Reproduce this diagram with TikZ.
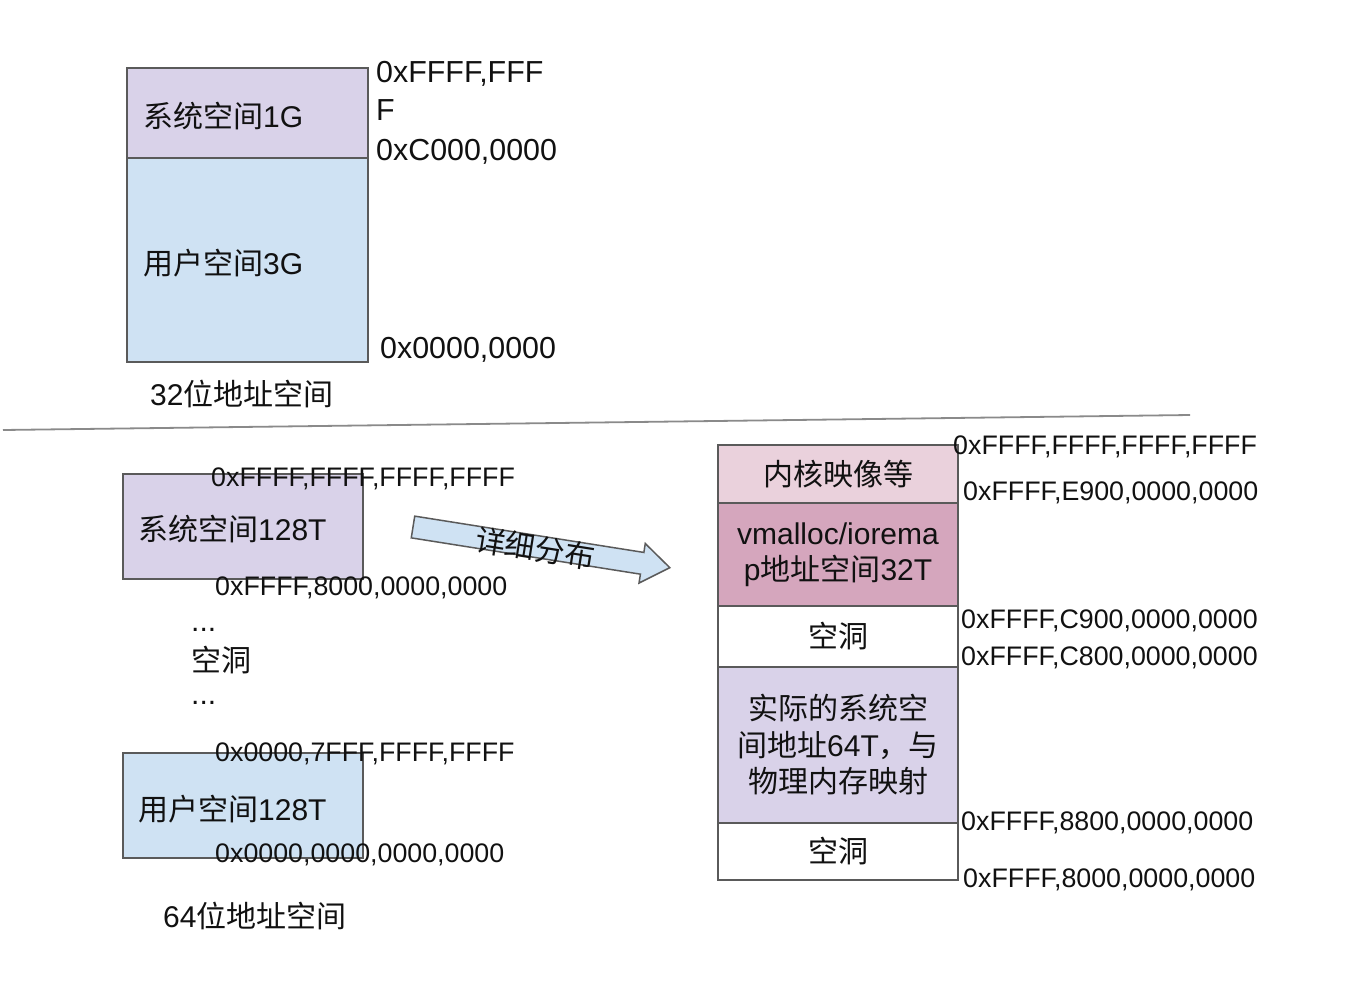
\documentclass[tikz,border=0pt]{standalone}
\usepackage{fontspec}
\setmainfont{Liberation Sans}
\newfontfamily\cjk{Noto Sans CJK SC}
\definecolor{lav}{HTML}{D9D2E9}
\definecolor{blu}{HTML}{CFE2F3}
\definecolor{pinklt}{HTML}{EAD1DC}
\definecolor{pinkdk}{HTML}{D5A6BD}
\definecolor{edge}{HTML}{5A5A5A}
\definecolor{ink}{HTML}{111111}
\definecolor{sep}{HTML}{8A8A8A}
\begin{document}
\begin{tikzpicture}[x=1pt,y=-1pt,
  box/.style={draw=edge, line width=1.8pt, anchor=north west, inner sep=0pt, outer sep=0pt},
  cell/.style={box, minimum width=240, align=center, text=ink, font=\fontsize{30}{36.5}\selectfont},
  lbl/.style={anchor=west, inner sep=0pt, text=ink, font=\fontsize{30}{36}\selectfont},
  hex/.style={anchor=west, inner sep=0pt, text=ink, font=\fontsize{26.8}{30}\selectfont},
  hexbig/.style={anchor=west, inner sep=0pt, text=ink, font=\fontsize{30.4}{36}\selectfont},
  bigarrow/.style={draw=edge, line width=1.5pt, fill=blu, line join=miter}
]
\useasboundingbox (0,0) rectangle (1348,990);

% ---------- 32-bit ----------
\node[box, fill=lav, minimum width=241, minimum height=90] (sys32) at (127,68) {};
\node[box, fill=blu, minimum width=241, minimum height=204] (usr32) at (127,158) {};
\node[lbl] (sys32t) at (143,116) {{\cjk 系统空间}1G};
\node[lbl] (usr32t) at (143,263) {{\cjk 用户空间}3G};
\node[hexbig] (h32a) at (376,74) {0xFFFF,FFF};
\node[hexbig] (h32b) at (376,110) {F};
\node[hexbig] (h32c) at (376,152) {0xC000,0000};
\node[hexbig] (h32d) at (380,350) {0x0000,0000};
\node[lbl] (cap32) at (150,394) {32{\cjk 位地址空间}};

% separator
\coordinate (sepL) at (3,430);
\coordinate (sepR) at (1190,415);
\draw[sep, line width=1.8pt] (sepL) -- (sepR);

% ---------- 64-bit left ----------
\node[box, fill=lav, minimum width=240, minimum height=105] (sys64) at (123,474) {};
\node[lbl] (sys64t) at (138,529) {{\cjk 系统空间}128T};
\node[hex] (h64a) at (211,479) {0xFFFF,FFFF,FFFF,FFFF};
\node[hex] (h64b) at (215,588) {0xFFFF,8000,0000,0000};
\node[lbl] (dots1) at (191,630) {...};
\node[lbl] (hole) at (191,660) {{\cjk 空洞}};
\node[lbl] (dots2) at (191,703) {...};

\node[box, fill=blu, minimum width=240, minimum height=105] (usr64) at (123,753) {};
\node[lbl] (usr64t) at (138,809) {{\cjk 用户空间}128T};
\node[hex] (h64c) at (215,754) {0x0000,7FFF,FFFF,FFFF};
\node[hex] (h64d) at (215,855) {0x0000,0000,0000,0000};
\node[lbl] (cap64) at (163,916) {64{\cjk 位地址空间}};

% ---------- block arrow ----------
\begin{scope}[shift={(413,527)}, rotate=-9]
  \draw[bigarrow] (0,-11) -- (232,-11) -- (232,-20) -- (260,0) -- (232,20) -- (232,11) -- (0,11) -- cycle;
  \node[lbl, anchor=center, transform shape] (detail) at (124,2) {{\cjk 详细分布}};
\end{scope}

% ---------- 64-bit right stack ----------
\node[cell, fill=pinklt, minimum height=58] (kimg) at (718,445) {{\cjk 内核映像等}};
\node[cell, fill=pinkdk, minimum height=103] (vmal) at (718,503) {vmalloc/iorema\\p{\cjk 地址空间}32T};
\node[cell, fill=white, minimum height=61] (hole1) at (718,606) {{\cjk 空洞}};
\node[cell, fill=lav, minimum height=156] (phys) at (718,667) {{\cjk 实际的系统空}\\{\cjk 间地址}64T{\cjk ，与}\\{\cjk 物理内存映射}};
\node[cell, fill=white, minimum height=57] (hole2) at (718,823) {{\cjk 空洞}};

\node[hex] (r1) at (953,447) {0xFFFF,FFFF,FFFF,FFFF};
\node[hex] (r2) at (963,493) {0xFFFF,E900,0000,0000};
\node[hex] (r3) at (961,621) {0xFFFF,C900,0000,0000};
\node[hex] (r4) at (961,658) {0xFFFF,C800,0000,0000};
\node[hex] (r5) at (961,823) {0xFFFF,8800,0000,0000};
\node[hex] (r6) at (963,880) {0xFFFF,8000,0000,0000};
\end{tikzpicture}
\end{document}
